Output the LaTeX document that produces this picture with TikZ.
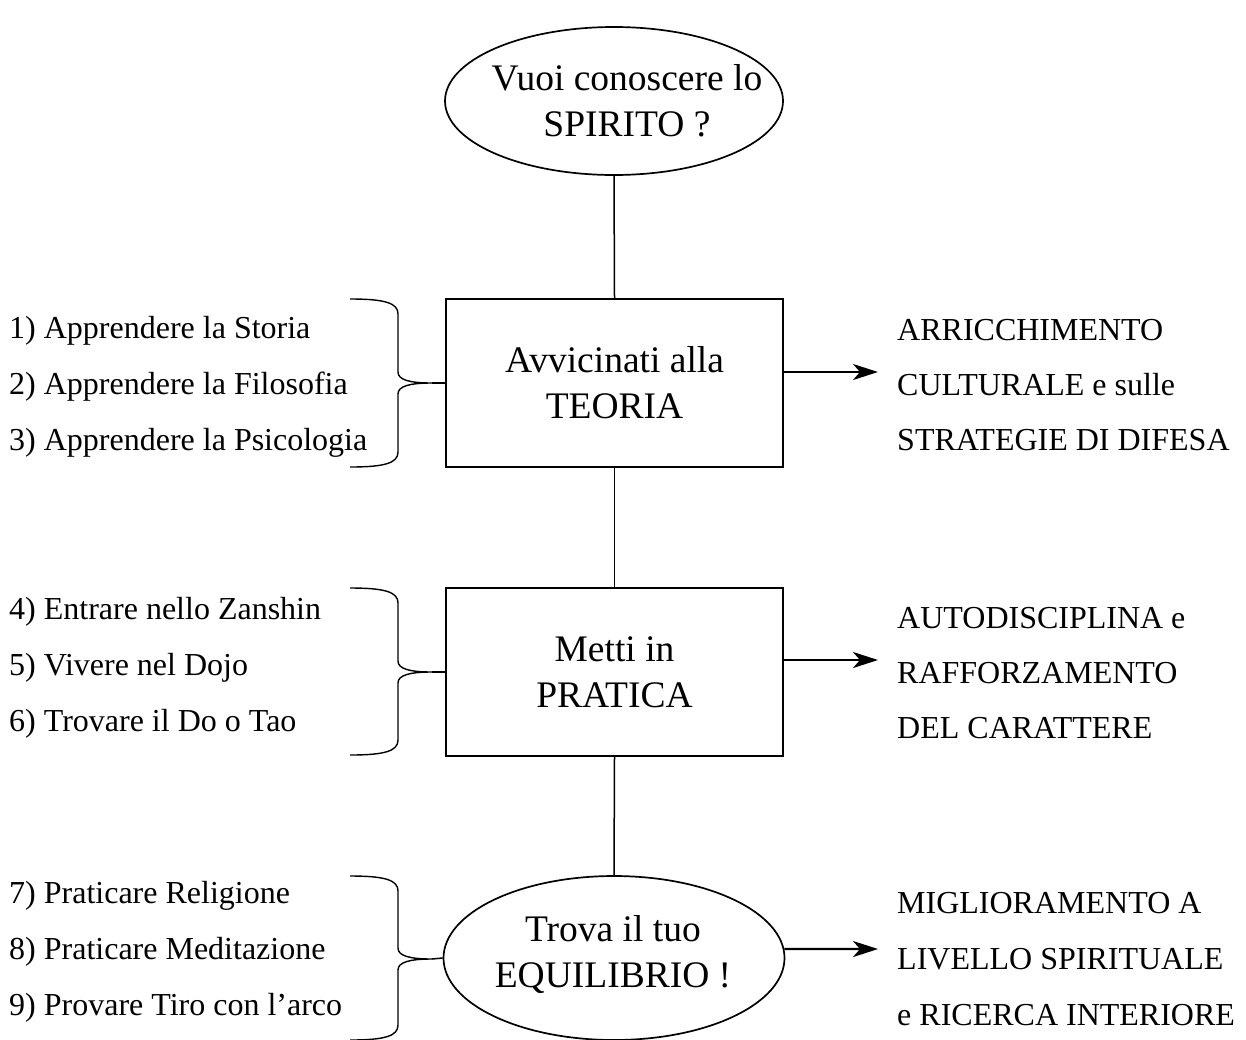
\documentclass[tikz,border=0pt]{standalone}
\usepackage{fontspec}
\setmainfont{Liberation Serif}
\usetikzlibrary{shapes.geometric,arrows.meta}
\tikzset{
  lw/.style={line width=1.7pt},
  bigtext/.style={align=center,inner sep=0pt,font=\fontsize{37.5}{46}\selectfont},
  mainbox/.style={draw,lw,rectangle,minimum width=337pt,minimum height=168pt,inner sep=0pt,bigtext},
  mainell/.style={draw,lw,ellipse,inner sep=0pt},
  lt/.style={anchor=base west,inner sep=0pt,font=\fontsize{32}{38}\selectfont},
  arr/.style={line width=2.2pt,-{Stealth[length=25pt,width=16pt,inset=7pt]}},
  conn/.style={line width=1.5pt},
  bracestyle/.style={line width=1.4pt}
}
\begin{document}
\begin{tikzpicture}[x=1pt,y=-1pt]
\useasboundingbox (0,0) rectangle (1246,1039);

% main nodes
\node[mainell,minimum width=338pt,minimum height=148pt] (e1) at (614,101) {};
\node[bigtext] (e1t) at (627,101) {Vuoi conoscere lo\\SPIRITO ?};
\node[mainbox] (b1) at (614.5,383) {Avvicinati alla\\TEORIA};
\node[mainbox] (b2) at (614.5,672) {Metti in\\PRATICA};
\node[mainell,minimum width=341pt,minimum height=164pt] (e3) at (614,958) {};
\node[bigtext] (e3t) at (613,955) {Trova il tuo\\EQUILIBRIO !};

\draw[conn] (e1.south) -- (b1.north);
\draw[conn] (b1.south) -- (b2.north);
\draw[conn] (b2.south) -- (e3.north);

% arrow ends
\coordinate (a1) at (878,372);
\coordinate (a2) at (878,660);
\coordinate (a3) at (878,949);
\draw[arr] ([yshift=11pt]b1.east) -- (a1);
\draw[arr] ([yshift=12pt]b2.east) -- (a2);
\draw[arr] (e3.3) -- (a3);

% braces
\foreach \T/\M/\B/\n in {299/383/467/1, 588/672/755/2, 876/959/1040/3}{
  \draw[bracestyle] (350,\T) .. controls (385,\T) and (398,\T+4) .. (398,\T+15)
     -- (398,\M-11) .. controls (398,\M-3) and (410,\M) .. (432,\M)
     .. controls (410,\M) and (398,\M+3) .. (398,\M+11)
     -- (398,\B-15) .. controls (398,\B-4) and (385,\B) .. (350,\B);
  \coordinate (tip\n) at (432,\M);
}
\draw[conn] (tip1) -- (b1.west);
\draw[conn] (tip2) -- (b2.west);
\draw[conn] (tip3) -- (e3.west);

% left texts
\node[lt] (l1) at (9,338) {1) Apprendere la Storia};
\node[lt] (l2) at (9,394) {2) Apprendere la Filosofia};
\node[lt] (l3) at (9,450) {3) Apprendere la Psicologia};
\node[lt] (l4) at (9,619) {4) Entrare nello Zanshin};
\node[lt] (l5) at (9,675) {5) Vivere nel Dojo};
\node[lt] (l6) at (9,731) {6) Trovare il Do o Tao};
\node[lt] (l7) at (9,903) {7) Praticare Religione};
\node[lt] (l8) at (9,959) {8) Praticare Meditazione};
\node[lt] (l9) at (9,1015) {9) Provare Tiro con l’arco};

% right texts
\node[lt] (r1) at (897,340) {ARRICCHIMENTO};
\node[lt] (r2) at (897,395) {CULTURALE e sulle};
\node[lt] (r3) at (897,450) {STRATEGIE DI DIFESA};
\node[lt] (r4) at (897,628) {AUTODISCIPLINA e};
\node[lt] (r5) at (897,683) {RAFFORZAMENTO};
\node[lt] (r6) at (897,738) {DEL CARATTERE};
\node[lt] (r7) at (897,913) {MIGLIORAMENTO A};
\node[lt] (r8) at (897,969) {LIVELLO SPIRITUALE};
\node[lt] (r9) at (897,1025) {e RICERCA INTERIORE};
\end{tikzpicture}
\end{document}
